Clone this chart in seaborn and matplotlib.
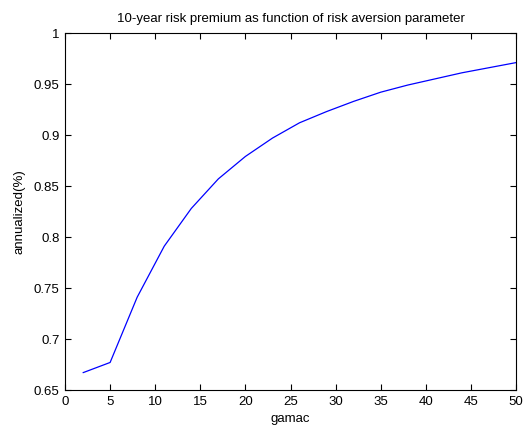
import seaborn as sns
import matplotlib.pyplot as plt
import pandas as pd

gamac = [2, 5, 8, 11, 14, 17, 20, 23, 26, 29, 32, 35, 38, 41, 44, 47, 50]
premium = [0.667, 0.677, 0.741, 0.791, 0.828, 0.857, 0.879, 0.897, 0.912,
           0.923, 0.933, 0.942, 0.949, 0.955, 0.961, 0.966, 0.971]

df = pd.DataFrame({"gamac": gamac, "premium": premium})

sns.set_style("ticks")
plt.rcParams['font.family'] = ['Liberation Sans', 'DejaVu Sans']
plt.rcParams['text.color'] = 'black'
plt.rcParams['axes.labelcolor'] = 'black'
plt.rcParams['xtick.color'] = 'black'
plt.rcParams['ytick.color'] = 'black'
plt.rcParams['axes.edgecolor'] = 'black'

fs = 9.5
fig = plt.figure(figsize=(5.26, 4.29), dpi=100)
ax = fig.add_axes([0.1236, 0.0909, 0.8574, 0.8321])
sns.lineplot(data=df, x="gamac", y="premium", color="blue", linewidth=0.9, ax=ax)

ax.set_xlim(0, 50)
ax.set_ylim(0.65, 1)
ax.set_xticks(range(0, 51, 5))
ax.set_yticks([0.65, 0.7, 0.75, 0.8, 0.85, 0.9, 0.95, 1])
ax.set_yticklabels(["0.65", "0.7", "0.75", "0.8", "0.85", "0.9", "0.95", "1"])
ax.tick_params(direction="in", top=True, right=True, length=4, width=0.8, labelsize=fs, pad=4)
for s in ax.spines.values():
    s.set_visible(True)
    s.set_linewidth(0.8)
ax.set_xlabel("gamac", fontsize=fs, labelpad=4)
ax.set_ylabel("annualized(%)", fontsize=fs, labelpad=6)
ax.set_title("10-year risk premium as function of risk aversion parameter", fontsize=fs, pad=8)

fig.savefig("out.png", dpi=100)
